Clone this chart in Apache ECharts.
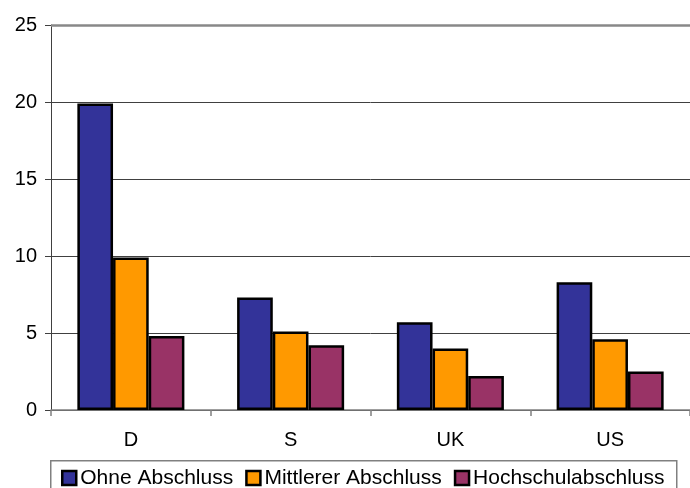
<!DOCTYPE html>
<html><head><meta charset="utf-8">
<script src="https://cdn.jsdelivr.net/npm/echarts@6/dist/echarts.min.js"></script>
<style>html,body{margin:0;padding:0;background:#fff}#c{width:690px;height:488px}</style>
</head><body><div id="c"></div>
<script>
const categories = ['D', 'S', 'UK', 'US'];
const seriesNames = ['Ohne Abschluss', 'Mittlerer Abschluss', 'Hochschulabschluss'];
const ohne = [19.9, 7.3, 5.7, 8.3];
const mittlerer = [9.9, 5.1, 4.0, 4.6];
const hochschul = [4.8, 4.2, 2.2, 2.5];
const yTicks = [0, 5, 10, 15, 20, 25];
const colors = ['#333399', '#FF9900', '#993366'];

const chart = echarts.init(document.getElementById('c'), null, {renderer: 'canvas'});
const font = 'Arial, "Liberation Sans", sans-serif';
const dataSets = [ohne, mittlerer, hochschul];
const yMax = yTicks[yTicks.length - 1];
chart.setOption({
  animation: false,
  grid: {left: 51, top: 25, right: -4, bottom: 78, containLabel: false},
  xAxis: {
    type: 'category', data: categories,
    axisLine: {lineStyle: {color: '#808080', width: 1.5}},
    axisTick: {show: true, length: 6, lineStyle: {color: '#808080', width: 1.5}},
    axisLabel: {fontFamily: font, fontSize: 20, color: '#000', margin: 20}
  },
  yAxis: {
    type: 'value', min: yTicks[0], max: yMax, interval: 5,
    axisLine: {show: true, lineStyle: {color: '#404040', width: 1}},
    axisTick: {show: true, length: 6, lineStyle: {color: '#404040'}},
    axisLabel: {fontFamily: font, fontSize: 20, color: '#000', margin: 14},
    splitLine: {lineStyle: {color: '#404040', width: 1}}
  },
  legend: {
    show: true, data: seriesNames, left: 56, top: 461,
    icon: 'rect', itemWidth: 14, itemHeight: 14, itemGap: 12,
    textStyle: {fontFamily: font, fontSize: 21, lineHeight: 24, color: '#000', padding: [0, 0, 0, -1]},
    itemStyle: {borderColor: '#000', borderWidth: 2.5}
  },
  graphic: [{
    type: 'rect', left: 50, top: 460, z: -1,
    shape: {width: 626, height: 40},
    style: {fill: '#fff', stroke: '#808080', lineWidth: 1.5}
  }],
  series: seriesNames.map((n, i) => ({
    name: n, type: 'bar', data: dataSets[i],
    barGap: '0%', barCategoryGap: '33%',
    itemStyle: {color: colors[i], borderColor: '#000', borderWidth: 2.5},
    markLine: i === 0 ? {
      silent: true, symbol: 'none', label: {show: false},
      lineStyle: {color: '#888888', width: 2.5, type: 'solid'},
      data: [{yAxis: yMax}]
    } : undefined
  }))
});
</script></body></html>
